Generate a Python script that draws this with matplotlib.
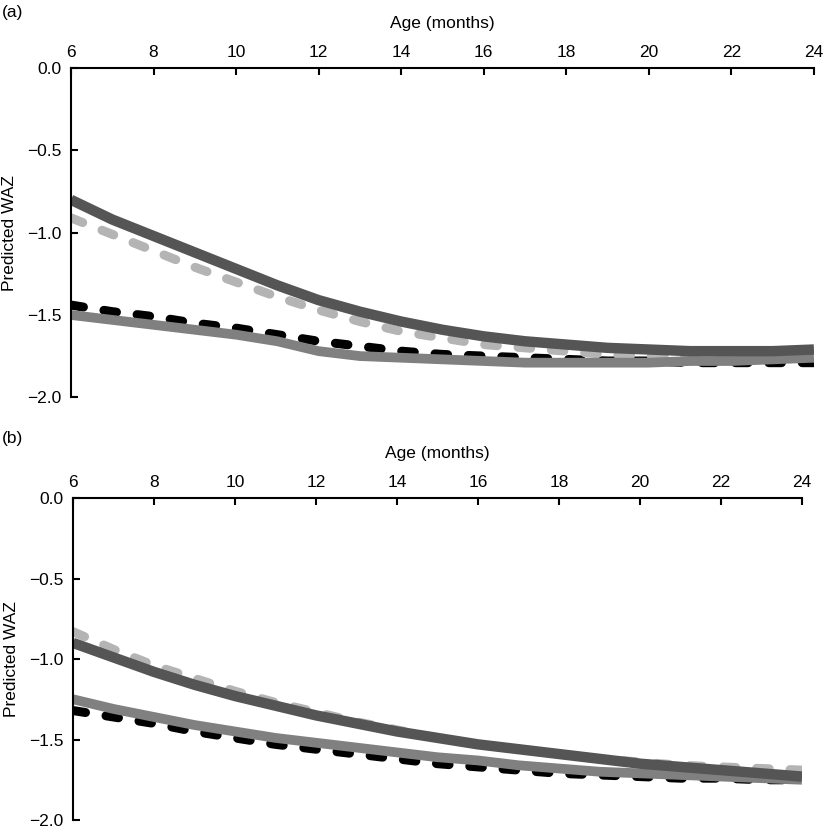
import matplotlib.pyplot as plt
import numpy as np

plt.rcParams['font.family'] = ['Liberation Sans', 'DejaVu Sans']

# age in months (one reading per month)
age = list(range(6, 25))

# panel (a)
a_dark = [-0.80, -0.92, -1.02, -1.12, -1.22, -1.32, -1.41, -1.48, -1.54, -1.59,
          -1.63, -1.66, -1.68, -1.70, -1.71, -1.72, -1.72, -1.72, -1.71]
a_light = [-0.91, -1.01, -1.11, -1.21, -1.30, -1.39, -1.47, -1.54, -1.60, -1.64,
           -1.68, -1.70, -1.72, -1.74, -1.75, -1.75, -1.75, -1.75, -1.75]
a_mid = [-1.50, -1.53, -1.56, -1.59, -1.62, -1.66, -1.72, -1.75, -1.76, -1.77,
         -1.78, -1.79, -1.79, -1.79, -1.79, -1.78, -1.78, -1.77, -1.76]
a_black = [-1.44, -1.48, -1.51, -1.55, -1.58, -1.62, -1.66, -1.69, -1.72, -1.74,
           -1.75, -1.76, -1.77, -1.78, -1.78, -1.79, -1.79, -1.79, -1.79]

# panel (b)
b_dark = [-0.90, -0.99, -1.08, -1.16, -1.23, -1.29, -1.35, -1.40, -1.45, -1.49,
          -1.53, -1.56, -1.59, -1.62, -1.65, -1.67, -1.69, -1.71, -1.73]
b_light = [-0.83, -0.94, -1.04, -1.12, -1.20, -1.27, -1.33, -1.39, -1.44, -1.49,
           -1.53, -1.56, -1.59, -1.62, -1.64, -1.66, -1.67, -1.68, -1.69]
b_mid = [-1.25, -1.31, -1.36, -1.41, -1.45, -1.49, -1.52, -1.55, -1.58, -1.61,
         -1.63, -1.66, -1.68, -1.70, -1.71, -1.72, -1.73, -1.74, -1.75]
b_black = [-1.32, -1.36, -1.40, -1.45, -1.49, -1.53, -1.56, -1.59, -1.62, -1.65,
           -1.67, -1.69, -1.71, -1.72, -1.73, -1.74, -1.74, -1.75, -1.75]

xticks = [6, 8, 10, 12, 14, 16, 18, 20, 22, 24]
yticks = [0.0, -0.5, -1.0, -1.5, -2.0]
fs = 12.5


def draw_panel(ax, dark, light, mid, black):
  ax.plot(age, black, color='black', lw=6.5, dashes=(1.4, 2.3), dash_capstyle='round')
  ax.plot(age, light, color='#b4b4b4', lw=6.5, dashes=(1.4, 2.3), dash_capstyle='round')
  ax.plot(age, mid, color='#808080', lw=7, solid_capstyle='butt', solid_joinstyle='round')
  ax.plot(age, dark, color='#555555', lw=7.5, solid_capstyle='butt', solid_joinstyle='round')
  ax.set_xlim(6, 24)
  ax.set_ylim(-2, 0)
  ax.set_xticks(xticks)
  ax.set_yticks(yticks)
  ax.set_yticklabels(['0.0', '\u22120.5', '\u22121.0', '\u22121.5', '\u22122.0'])
  ax.xaxis.tick_top()
  ax.xaxis.set_label_position('top')
  ax.spines['right'].set_visible(False)
  ax.spines['bottom'].set_visible(False)
  ax.spines['left'].set_linewidth(1.5)
  ax.spines['top'].set_linewidth(1.5)
  ax.tick_params(axis='both', direction='in', length=5, width=1.5, labelsize=fs)
  ax.tick_params(axis='x', pad=6)
  ax.tick_params(axis='y', pad=7)
  ax.set_xlabel('Age (months)', fontsize=fs, labelpad=12)
  ax.set_ylabel('Predicted WAZ', fontsize=fs, labelpad=7)


fig = plt.figure(figsize=(8.25, 8.31), dpi=100)
ax1 = fig.add_axes([0.086, 0.522, 0.9006, 0.396])
ax2 = fig.add_axes([0.0885, 0.0132, 0.8836, 0.3875])
draw_panel(ax1, a_dark, a_light, a_mid, a_black)
draw_panel(ax2, b_dark, b_light, b_mid, b_black)

fig.text(0.002, 0.985, '(a)', fontsize=fs, va='center')
fig.text(0.002, 0.472, '(b)', fontsize=fs, va='center')

plt.savefig('out.png', dpi=100)
